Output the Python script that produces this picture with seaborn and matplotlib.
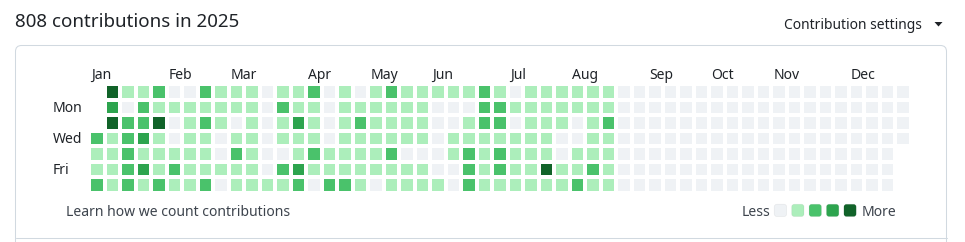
import numpy as np
import pandas as pd
import matplotlib
matplotlib.use("Agg")
import matplotlib.pyplot as plt
import seaborn as sns
from matplotlib.colors import ListedColormap
from matplotlib.patches import FancyBboxPatch, Polygon

# ---------------- data (contribution level 0-4 per day, None = outside 2025) ----------------
N = None
sun = [N, 4, 1, 1, 2, 0, 0, 2, 1, 1, 1, 0, 1, 1, 2, 0, 1, 0, 1, 2, 1, 1, 1, 1, 1, 2, 1,
       0, 1, 1, 1, 1, 1, 1, 0, 0] + [0] * 17
mon = [N, 3, 0, 2, 1, 1, 1, 1, 1, 1, 1, 0, 2, 1, 1, 0, 1, 1, 1, 1, 1, 1, 0, 0, 0, 2, 2,
       1, 1, 1, 1, 1, 1, 1, 0, 0] + [0] * 17
tue = [N, 4, 2, 2, 4, 0, 1, 2, 1, 0, 1, 0, 1, 3, 1, 0, 1, 2, 1, 1, 1, 1, 0, 0, 1, 2, 2,
       0, 1, 1, 1, 0, 1, 2, 0, 0] + [0] * 17
wed = [2, 1, 2, 3, 1, 0, 1, 1, 0, 1, 1, 0, 1, 1, 1, 0, 1, 1, 1, 1, 1, 1, 0, 1, 1, 1, 1,
       1, 1, 1, 0, 0, 1, 1, 0, 0] + [0] * 17
thu = [1, 1, 2, 1, 1, 1, 1, 1, 0, 2, 1, 0, 0, 1, 2, 1, 1, 1, 1, 2, 0, 0, 0, 1, 2, 1, 2,
       1, 1, 1, 0, 1, 1, 1, 0, 0] + [0] * 16 + [N]
fri = [1, 1, 2, 3, 1, 2, 1, 1, 1, 1, 1, 0, 2, 3, 1, 1, 1, 1, 1, 1, 1, 1, 0, 0, 2, 1, 2,
       1, 1, 4, 1, 1, 2, 1, 0, 0] + [0] * 16 + [N]
sat = [2, 1, 2, 1, 2, 1, 1, 2, 0, 1, 1, 1, 1, 2, 0, 2, 2, 1, 0, 1, 1, 1, 1, 0, 2, 1, 1,
       1, 1, 1, 1, 2, 1, 1, 0, 0] + [0] * 16 + [N]

weekdays = ["Sun", "Mon", "Tue", "Wed", "Thu", "Fri", "Sat"]
day_labels = ["Mon", "Wed", "Fri"]
months = ["Jan", "Feb", "Mar", "Apr", "May", "Jun", "Jul", "Aug", "Sep", "Oct", "Nov", "Dec"]
month_week = [0, 5, 9, 14, 18, 22, 27, 31, 36, 40, 44, 49]
level_colors = ["#eff2f5", "#aceebb", "#4ac26b", "#2da44e", "#116329"]
title_text = "808 contributions in 2025"

df = pd.DataFrame([sun, mon, tue, wed, thu, fri, sat], index=weekdays, dtype=float)

# ---------------- figure ----------------
sns.set_theme(style="white")
plt.rcParams["font.family"] = ["Noto Sans", "DejaVu Sans"]

W, H = 965, 242
fig = plt.figure(figsize=(W / 100, H / 100), dpi=100)
fig.patch.set_facecolor("white")

bg = fig.add_axes([0, 0, 1, 1], zorder=0)
bg.set_xlim(0, W)
bg.set_ylim(H, 0)
bg.axis("off")

FG = "#1f2328"
MUTED = "#3d444d"
BORDER = "#d1d9e0"

# box
bg.add_patch(FancyBboxPatch((15.5, 45.5), 931, 260, boxstyle="round,pad=0,rounding_size=6",
                            fc="white", ec=BORDER, lw=0.75))
bg.plot([15.5, 946.5], [237.5, 237.5], color=BORDER, lw=0.75)

def fit(t, target):
    for _ in range(2):
        fig.canvas.draw()
        w = t.get_window_extent(fig.canvas.get_renderer()).width
        t.set_fontsize(t.get_fontsize() * target / w)

title = bg.text(15, 27, title_text, fontsize=14, color=FG, va="baseline", ha="left")
fit(title, 224)
settings = bg.text(922, 29, "Contribution settings", fontsize=10, color=FG, va="baseline", ha="right")
fit(settings, 138)
bg.add_patch(Polygon([[934.5, 22], [942.5, 22], [938.5, 26.5]], closed=True, fc=FG, ec="none"))

learn = bg.text(66, 216, "Learn how we count contributions", fontsize=10, color=MUTED,
                va="baseline", ha="left")
fit(learn, 224)
small = learn.get_fontsize()

bg.text(742, 216, "Less", fontsize=small, color=MUTED, va="baseline", ha="left")
bg.text(862, 216, "More", fontsize=small, color=MUTED, va="baseline", ha="left")
for i, c in enumerate(level_colors):
    x0 = 774.3 + 17.4 * i
    bg.add_patch(FancyBboxPatch((x0, 204.3), 12.3, 12.2, boxstyle="round,pad=0,rounding_size=2.5",
                                fc=c, ec=(0.12, 0.14, 0.16, 0.06), lw=0.6))

# calendar grid
left, top, pxw, pxh = 89.05, 84.0, 15.5, 15.57
ax = fig.add_axes([left / W, 1 - (top + 7 * pxh) / H, 53 * pxw / W, 7 * pxh / H], zorder=1)
ax.set_facecolor("none")
cmap = ListedColormap(level_colors)
sns.heatmap(df, ax=ax, cmap=cmap, vmin=-0.5, vmax=4.5, cbar=False,
            linewidths=3.7 * 0.72, linecolor="white",
            xticklabels=False, yticklabels=False)

ax.xaxis.tick_top()
ax.set_xticks(np.array(month_week) + 0.15)
ax.set_xticklabels(months, ha="left", va="baseline", fontsize=small, color=FG)
ax.tick_params(axis="x", length=0, pad=5.5 * 0.72, top=True, bottom=False,
               labeltop=True, labelbottom=False)
ax.set_yticks(np.array([weekdays.index(d) for d in day_labels]) + 0.5 + 0.31)
ax.set_yticklabels(day_labels, ha="left", va="baseline", rotation=0, fontsize=small, color=FG)
ax.tick_params(axis="y", length=0, pad=36 * 0.72)
ax.set_xlabel("")
ax.set_ylabel("")
for s in ax.spines.values():
    s.set_visible(False)

fig.savefig("out.png", dpi=100, facecolor="white")
